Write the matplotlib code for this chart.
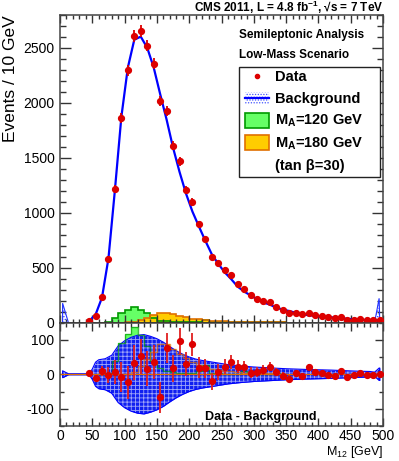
import numpy as np
import matplotlib
matplotlib.use('Agg')
import matplotlib.pyplot as plt
from matplotlib.ticker import MultipleLocator
from matplotlib.patches import Rectangle
from matplotlib.lines import Line2D

# data (10 GeV bins)
bin_centers = np.arange(45, 500, 10)
data = [18, 61, 236, 582, 1213, 1864, 2297, 2609, 2655, 2518,
        2358, 2015, 1925, 1609, 1467, 1206, 1097, 894, 761, 600,
        540, 479, 431, 349, 303, 252, 218, 194, 185, 140,
        113, 91, 91, 73, 85, 67, 58, 49, 40, 49,
        27, 27, 30, 21, 21, 21]
background = [13, 71, 227, 584, 1206, 1873, 2320, 2575, 2603, 2502,
              2323, 2081, 1848, 1592, 1372, 1175, 1010, 875, 744, 621,
              534, 457, 395, 327, 282, 247, 212, 182, 163, 134,
              118, 104, 88, 78, 65, 61, 53, 51, 44, 40,
              34, 29, 25, 23, 23, 20]

# signal histograms, bins 60-350 GeV
sig_edges = np.arange(60, 360, 10)
sig_120 = [0, 4, 37, 90, 118, 137, 115, 82, 38, 18,
           10, 6, 5, 4, 4, 8, 27, 5, 3, 2,
           2, 2, 8, 2, 2, 1, 1, 5, 1]
sig_180 = [0, 0, 0, 0, 2, 6, 25, 43, 65, 87,
           88, 74, 60, 46, 36, 28, 20, 15, 12, 10,
           8, 6, 5, 5, 4, 3, 3, 2, 2]

# background uncertainty band (lower panel, +/- half width)
band_x = [4, 13, 45, 50, 55, 60, 70, 80, 90, 100, 110, 120, 130, 140, 150,
          160, 170, 180, 190, 200, 210, 220, 240, 260, 280, 300, 320, 350,
          380, 420, 460, 480, 487, 494, 495]
band_h = [10, 1.5, 1.5, 15, 35, 42, 45, 55, 82, 97, 107, 113, 115, 110, 103,
          93, 80, 68, 58, 50, 44, 40, 34, 28, 24, 21, 19, 16,
          14, 12, 9, 8, 6, 18, 18]

# fit artefacts at the histogram edges (top panel)
edge_left_x = [4, 4, 13]
edge_left_y = [0, 176, 0]
edge_right_x = [487, 494, 495]
edge_right_y = [0, 220, 0]

plt.rcParams['font.family'] = ['Liberation Sans', 'DejaVu Sans']
plt.rcParams['mathtext.fontset'] = 'custom'
plt.rcParams['mathtext.rm'] = 'Liberation Sans'
plt.rcParams['mathtext.bf'] = 'Liberation Sans:bold'
plt.rcParams['mathtext.it'] = 'Liberation Sans:italic'
plt.rcParams['axes.unicode_minus'] = False
plt.rcParams['hatch.linewidth'] = 0.6

W, H = 399, 461
fig = plt.figure(figsize=(W / 100, H / 100), dpi=100)


def fx(p):
    return p / W


def fy(p):
    return 1 - p / H


ax = fig.add_axes([fx(60), fy(322.5), fx(383) - fx(60), fy(15) - fy(322.5)])
axr = fig.add_axes([fx(60), fy(426), fx(383) - fx(60), fy(322.5) - fy(426)])

data = np.array(data, dtype=float)
background = np.array(background, dtype=float)
err = np.sqrt(data)
resid = data - background

GREEN, GREEN_E = '#66ff66', '#009900'
GOLD, GOLD_E = '#ffcc00', '#e07000'
BLUE = '#0000ff'
RED = '#dd0000'

# ---- top panel
ax.stairs(sig_120, sig_edges, fill=True, color=GREEN, zorder=1)
ax.stairs(sig_180, sig_edges, fill=True, color=GOLD, zorder=1.1)
ax.stairs(sig_120, sig_edges, color=GREEN_E, lw=1.2, zorder=1.2)
ax.stairs(sig_180, sig_edges, color=GOLD_E, lw=1.2, zorder=1.3)
for ex, ey in ((edge_left_x, edge_left_y), (edge_right_x, edge_right_y)):
    ax.fill(ex, ey, facecolor='none', edgecolor='#2233ff', hatch='......', lw=0.8, zorder=2)
ax.plot(bin_centers, background, color=BLUE, lw=1.6, zorder=3)
ax.errorbar(bin_centers, data, yerr=err, fmt='o', color=RED, ms=4.2,
            elinewidth=1.3, capsize=0, zorder=4)
ax.set_xlim(0, 500)
ax.set_ylim(0, 2800)
ax.yaxis.set_major_locator(MultipleLocator(500))
ax.yaxis.set_minor_locator(MultipleLocator(100))

# ---- lower panel
axr.stairs(sig_120, sig_edges, fill=True, color=GREEN, zorder=1)
axr.stairs(sig_180, sig_edges, fill=True, color=GOLD, zorder=1.1)
band_x = np.array(band_x, dtype=float)
band_h = np.array(band_h, dtype=float)
axr.fill_between(band_x, -band_h, band_h, color='#1020f0', lw=0, zorder=2)
axr.fill_between(band_x, -band_h, band_h, facecolor='none', edgecolor=(1, 1, 1, 0.6),
                 hatch='++++', lw=0, zorder=2.1)
axr.fill_between(band_x, -band_h, band_h, facecolor='none', edgecolor=BLUE, lw=0.8, zorder=2.2)
axr.stairs(sig_120, sig_edges, color=GREEN_E, lw=1.0, alpha=0.7, zorder=2.3)
axr.stairs(sig_180, sig_edges, color=GOLD_E, lw=1.0, alpha=0.7, zorder=2.3)
axr.axhline(0, color=GOLD_E, lw=0.9, zorder=2.4)
axr.errorbar(bin_centers, resid, yerr=err, fmt='o', color=RED, ecolor='#e02020',
             ms=4.2, elinewidth=1.3, capsize=0, zorder=4)
axr.set_xlim(0, 500)
axr.set_ylim(-150, 150)
axr.yaxis.set_major_locator(MultipleLocator(100))
axr.yaxis.set_minor_locator(MultipleLocator(50))

for a in (ax, axr):
    a.xaxis.set_major_locator(MultipleLocator(50))
    a.xaxis.set_minor_locator(MultipleLocator(10))
    a.tick_params(which='both', direction='in', top=True, right=True,
                  color='#333333', width=1.0, labelsize=10, pad=4)
    for s in a.spines.values():
        s.set_color('#444444')
        s.set_linewidth(1.1)
ax.tick_params(axis='y', which='major', length=8)
ax.tick_params(axis='y', which='minor', length=4.3)
ax.tick_params(axis='x', which='major', length=5.8)
ax.tick_params(axis='x', which='minor', length=2.9)
ax.tick_params(labelbottom=False)
axr.tick_params(axis='both', which='major', length=6)
axr.tick_params(axis='both', which='minor', length=3)
axr.tick_params(axis='x', pad=2.5)
ax.spines['bottom'].set_color('black')

# ---- texts
fig.text(fx(383), fy(12), 'CMS 2011, L = 4.8 fb$^{\\mathbf{-1}}$, \u221as = 7 TeV',
         ha='right', va='baseline', fontsize=8.5, fontweight='bold')
fig.text(fx(11), fy(79), 'Events / 10 GeV', rotation=90, ha='center', va='center', fontsize=12.5)
fig.text(fx(383), fy(455), r'M$_{12}$ [GeV]', ha='right', va='baseline', fontsize=9)
fig.text(fx(205), fy(419.5), 'Data - Background', ha='left', va='baseline',
         fontsize=9, fontweight='bold')
fig.text(fx(239), fy(38.3), 'Semileptonic Analysis', ha='left', va='baseline',
         fontsize=8.5, fontweight='bold')
fig.text(fx(239), fy(58.3), 'Low-Mass Scenario', ha='left', va='baseline',
         fontsize=8.5, fontweight='bold')

# ---- legend (drawn by hand, ROOT style)
fig.patches.append(Rectangle((fx(239), fy(177)), fx(380) - fx(239), fy(66.7) - fy(177),
                             transform=fig.transFigure, facecolor='white',
                             edgecolor='#222222', lw=1.0, zorder=5))
fig.lines.append(Line2D([fx(256.7)], [fy(76)], marker='o', color=RED, ms=3,
                        transform=fig.transFigure, zorder=6))
fig.patches.append(Rectangle((fx(245), fy(104)), fx(269) - fx(245), fy(92) - fy(104),
                             transform=fig.transFigure, facecolor='none',
                             edgecolor='#4455ff', hatch='......', lw=0, zorder=6))
fig.lines.append(Line2D([fx(245), fx(269)], [fy(98.3), fy(98.3)], color=BLUE, lw=1.6,
                        transform=fig.transFigure, zorder=7))
fig.patches.append(Rectangle((fx(245), fy(128.3)), fx(269) - fx(245), fy(113.3) - fy(128.3),
                             transform=fig.transFigure, facecolor=GREEN,
                             edgecolor=GREEN_E, lw=1.2, zorder=6))
fig.patches.append(Rectangle((fx(245), fy(150)), fx(269) - fx(245), fy(135) - fy(150),
                             transform=fig.transFigure, facecolor=GOLD,
                             edgecolor=GOLD_E, lw=1.2, zorder=6))
legend_labels = ['Data', 'Background', r'M$_{\mathbf{A}}$=120 GeV',
                 r'M$_{\mathbf{A}}$=180 GeV', '(tan \u03b2=30)']
legend_base = [81, 103.3, 125, 147.3, 170]
for lab, yb in zip(legend_labels, legend_base):
    fig.text(fx(275), fy(yb), lab, ha='left', va='baseline', fontsize=10.5,
             fontweight='bold', zorder=7)

fig.savefig('out.png', dpi=100)
